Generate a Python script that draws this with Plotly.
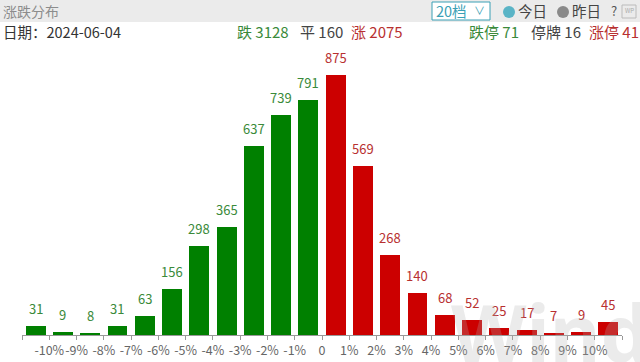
import plotly.graph_objects as go

# ---- data ----
down_counts = [31, 9, 8, 31, 63, 156, 298, 365, 637, 739, 791]
up_counts = [875, 569, 268, 140, 68, 52, 25, 17, 7, 9, 45]
tick_labels = ["-10%", "-9%", "-8%", "-7%", "-6%", "-5%", "-4%", "-3%", "-2%", "-1%",
               "0", "1%", "2%", "3%", "4%", "5%", "6%", "7%", "8%", "9%", "10%"]
date_text = "2024-06-04"
fall_total = 3128
flat_total = 160
rise_total = 2075
limit_down = 71
suspended = 16
limit_up = 41

W, H = 640, 362
GREEN = "#008000"
RED = "#cc0000"
GREEN_TXT = "#3a8a3a"
RED_TXT = "#b83030"
FONT = "Noto Sans CJK SC"

n_down = len(down_counts)
n_up = len(up_counts)
x_down = list(range(n_down))
x_up = list(range(n_down, n_down + n_up))

def px(x):
    return x / W

def py(y):
    return 1 - y / H

fig = go.Figure()
fig.add_trace(go.Bar(x=x_down, y=down_counts, marker_color=GREEN, width=0.73,
                     marker_line_width=0, hoverinfo="skip"))
fig.add_trace(go.Bar(x=x_up, y=up_counts, marker_color=RED, width=0.73,
                     marker_line_width=0, hoverinfo="skip"))

annotations = []
for xs, ys, c in ((x_down, down_counts, GREEN_TXT), (x_up, up_counts, RED_TXT)):
    for x, y in zip(xs, ys):
        annotations.append(dict(x=x, y=y, xref="x", yref="y", text=str(y), showarrow=False,
                                yanchor="bottom", yshift=6,
                                font=dict(family=FONT, size=13, color=c)))

# watermark
annotations.append(dict(x=px(550), y=py(332), xref="paper", yref="paper", text="<b>Wind</b>",
                        showarrow=False, xanchor="center", yanchor="middle",
                        font=dict(family="Noto Sans", size=78, color="rgba(175,175,175,0.25)")))

# header
def txt(x, y, s, color, size=13, anchor="left"):
    annotations.append(dict(x=px(x), y=py(y), xref="paper", yref="paper", text=s,
                            showarrow=False, xanchor=anchor, yanchor="middle",
                            font=dict(family=FONT, size=size, color=color)))

txt(1, 11, "涨跌分布", "#8c8c8c", 14)
txt(434, 11, "20档", "#3aa0b5", 14.5)
txt(472, 10, "∨", "#3aa0b5", 11)
txt(516, 11, "今日", "#444444", 14.5)
txt(570, 11, "昨日", "#444444", 14.5)
txt(609, 11, "?", "#555555", 13)
txt(629, 11, "WP", "#aaaaaa", 6, "center")

txt(1, 31, "日期：" + date_text, "#333333", 14.5)
txt(235, 31, f"跌 {fall_total}", GREEN_TXT, 15)
txt(298, 31, f"平 {flat_total}", "#444444", 15)
txt(349, 31, f"涨 {rise_total}", RED_TXT, 15)
txt(467, 31, f"跌停 {limit_down}", GREEN_TXT, 15)
txt(529, 31, f"停牌 {suspended}", "#444444", 15)
txt(587, 31, f"涨停 {limit_up}", RED_TXT, 15)

shapes = [
    dict(type="rect", xref="paper", yref="paper", x0=0, x1=1, y0=py(22), y1=1,
         fillcolor="#ebebeb", line_width=0, layer="below"),
    dict(type="rect", xref="paper", yref="paper", x0=px(432), x1=px(490), y0=py(20), y1=py(2),
         fillcolor="white", line=dict(color="#3aa0b5", width=1), layer="below"),
    dict(type="circle", xref="paper", yref="paper", x0=px(503), x1=px(515), y0=py(18), y1=py(6),
         fillcolor="#5ab4c6", line_width=0),
    dict(type="circle", xref="paper", yref="paper", x0=px(557), x1=px(569), y0=py(18), y1=py(6),
         fillcolor="#8a8a8a", line_width=0),
    dict(type="rect", xref="paper", yref="paper", x0=px(622), x1=px(636), y0=py(18), y1=py(5),
         fillcolor="rgba(0,0,0,0)", line=dict(color="#bbbbbb", width=1)),
]

tickvals = [-0.5] + [i + 0.5 for i in range(len(tick_labels))] + [n_down + n_up - 0.5]
ticktext = [""] + tick_labels + [""]

fig.update_layout(
    width=W, height=H,
    margin=dict(l=0, r=0, t=0, b=0),
    paper_bgcolor="white", plot_bgcolor="white",
    showlegend=False,
    bargap=0,
    annotations=annotations,
    shapes=shapes,
    xaxis=dict(domain=[px(22), px(622)], range=[-0.5, n_down + n_up - 0.5],
               tickvals=tickvals, ticktext=ticktext, tickangle=0, automargin=False,
               showline=True, linecolor="#999999", linewidth=1,
               ticks="outside", ticklen=4, tickcolor="#999999",
               showgrid=False, zeroline=False,
               tickfont=dict(family=FONT, size=12.5, color="#666666")),
    yaxis=dict(domain=[py(335), py(45)], range=[0, 976], visible=False,
               showgrid=False, zeroline=False),
)

fig.write_html("out.html", config={"displayModeBar": False},
               post_script="document.body.style.margin='0';")
